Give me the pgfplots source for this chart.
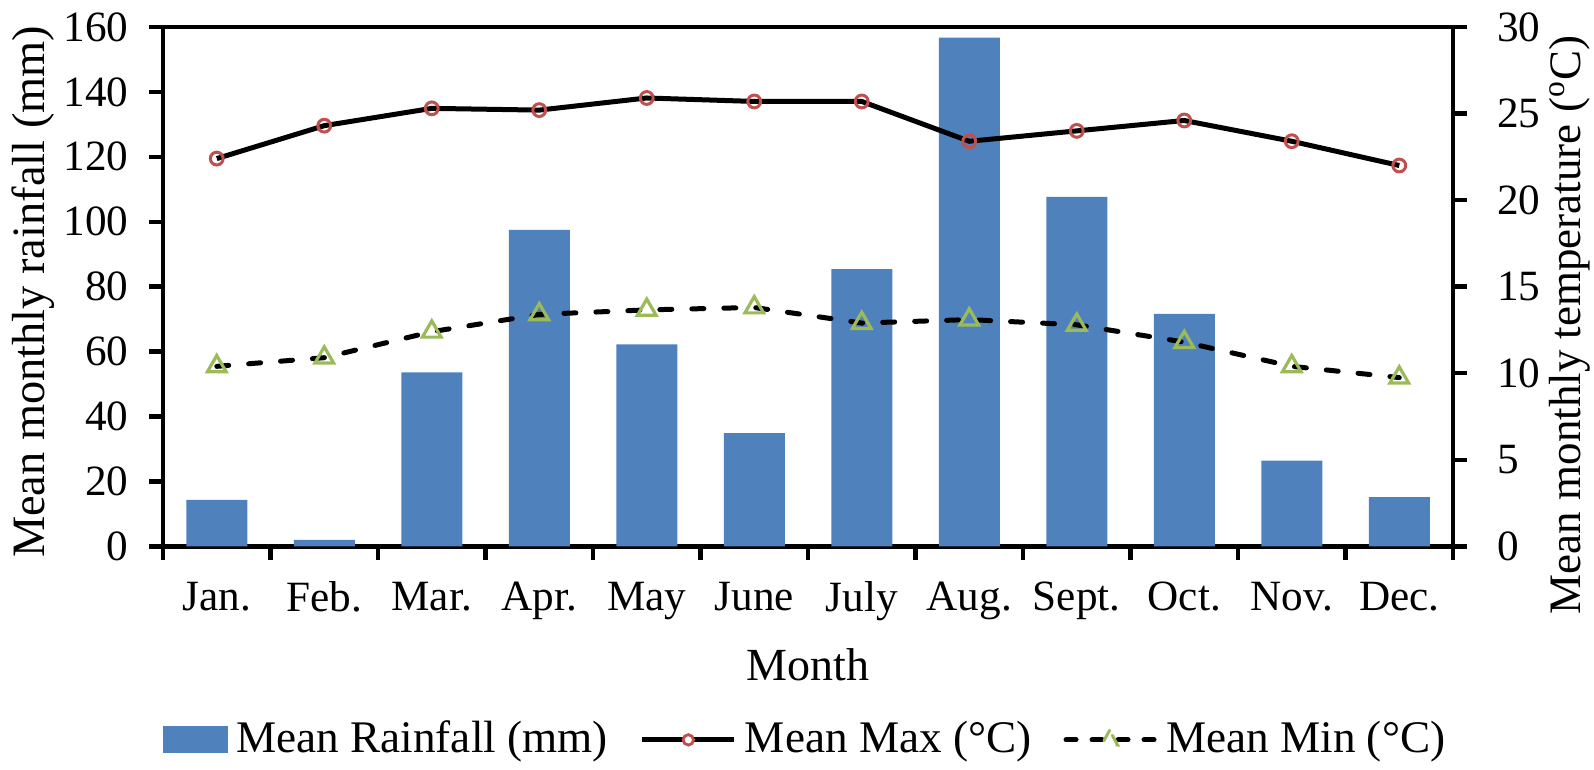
\documentclass[border=0pt]{standalone}
\usepackage{fontspec}
\setmainfont{Liberation Serif}
\usepackage{pgfplots}
\pgfplotsset{compat=1.18}
\definecolor{barblue}{HTML}{4F81BD}
\definecolor{mred}{HTML}{C0504D}
\definecolor{mgreen}{HTML}{9BBB59}
\begin{document}
\begin{tikzpicture}
\path[use as bounding box] (0,0) rectangle (398.5pt,192.5pt);
\pgfplotsset{
  myax/.style={
    at={(40.75pt,55.9pt)}, anchor=south west, scale only axis,
    width=322.5pt, height=129.85pt,
    xmin=-0.5, xmax=11.5,
    axis line style={line width=1.1pt},
    every tick/.style={black, line width=1.1pt},
    tick align=outside,
    major tick length=3.5pt, minor tick length=3.5pt,
    /pgf/number format/assume math mode=true,
    tick label style={font=\fontsize{10.8}{12}\selectfont},
    label style={font=\fontsize{11.6}{13}\selectfont},
  }
}
\begin{axis}[myax,
  ymin=0, ymax=160, ytick={0,20,...,160},
  xtick pos=bottom, ytick pos=left,
  xtick={0,...,11},
  xticklabels={Jan.,Feb.,Mar.,Apr.,May,June,July,Aug.,Sept.,Oct.,Nov.,Dec.},
  xticklabel style={yshift=-1.8pt},
  yticklabel style={xshift=-1.6pt},
  major x tick style={draw=none},
  minor xtick={-0.5,0.5,...,11.5},
  xlabel={Month},
  ylabel={Mean monthly rainfall (mm)},
  xlabel style={at={(axis description cs:0.5,-0.228)}, anchor=center, font=\fontsize{11.5}{13}\selectfont},
  ylabel style={at={(axis description cs:-0.1003,0.49)}, anchor=center, rotate=0},
]
\addplot[ybar, bar width=15.25pt, fill=barblue, draw=none] coordinates {
 (0,14.3) (1,2.0) (2,53.6) (3,97.5) (4,62.2) (5,34.9) (6,85.4) (7,156.7) (8,107.7) (9,71.6) (10,26.4) (11,15.2)};
\end{axis}
\begin{axis}[myax,
  ymin=0, ymax=30, ytick={0,5,...,30},
  axis y line*=right, axis x line=none,
  yticklabel style={xshift=4pt},
  ylabel={Mean monthly temperature (\textsuperscript{o}C)},
  ylabel style={at={(axis description cs:1.0907,0.427)}, anchor=center, rotate=0, font=\fontsize{11.25}{13}\selectfont},
  legend columns=3,
  legend style={at={(0.5,-0.3725)}, anchor=center, draw=none, fill=none,
    font=\fontsize{11.3}{13}\selectfont,
    /tikz/every even column/.append style={column sep=6pt},
    inner sep=0pt, outer sep=0pt},
  legend cell align=left,
]
\addlegendimage{legend image code/.code={\fill[barblue] (0pt,-3.2pt) rectangle (16pt,3.2pt);}}
\addlegendentry{Mean Rainfall (mm)}
\addplot[black, line width=1.25pt, mark=o, mark size=1.6pt,
  mark options={draw=mred, line width=0.75pt, solid},
  legend image code/.code={\draw[black, line width=1.25pt] (0pt,0pt) -- (23pt,0pt); \draw[mred, line width=0.7pt, fill=white] (11.5pt,0pt) circle (1.3pt);}]
 coordinates {(0,22.4) (1,24.3) (2,25.3) (3,25.2) (4,25.9) (5,25.7) (6,25.7) (7,23.4) (8,24.0) (9,24.6) (10,23.4) (11,22.0)};
\addlegendentry{Mean Max (°C)}
\addplot[black, line width=1.25pt, line cap=round, dash pattern=on 3pt off 5pt, mark=triangle, mark size=2.7pt,
  mark options={draw=mgreen, line width=0.8pt, solid},
  legend image code/.code={\draw[black, line width=1.25pt, line cap=round, dash pattern=on 2.5pt off 4pt] (0.6pt,0pt) -- (23pt,0pt); \draw[mgreen, line width=0.75pt] (11.5pt,2.4pt) -- (9.5pt,-1.3pt) -- (13.5pt,-1.3pt) -- cycle;}]
 coordinates {(0,10.4) (1,10.9) (2,12.4) (3,13.4) (4,13.66) (5,13.8) (6,12.9) (7,13.1) (8,12.8) (9,11.8) (10,10.4) (11,9.75)};
\addlegendentry{Mean Min (°C)}
\end{axis}
\end{tikzpicture}
\end{document}
